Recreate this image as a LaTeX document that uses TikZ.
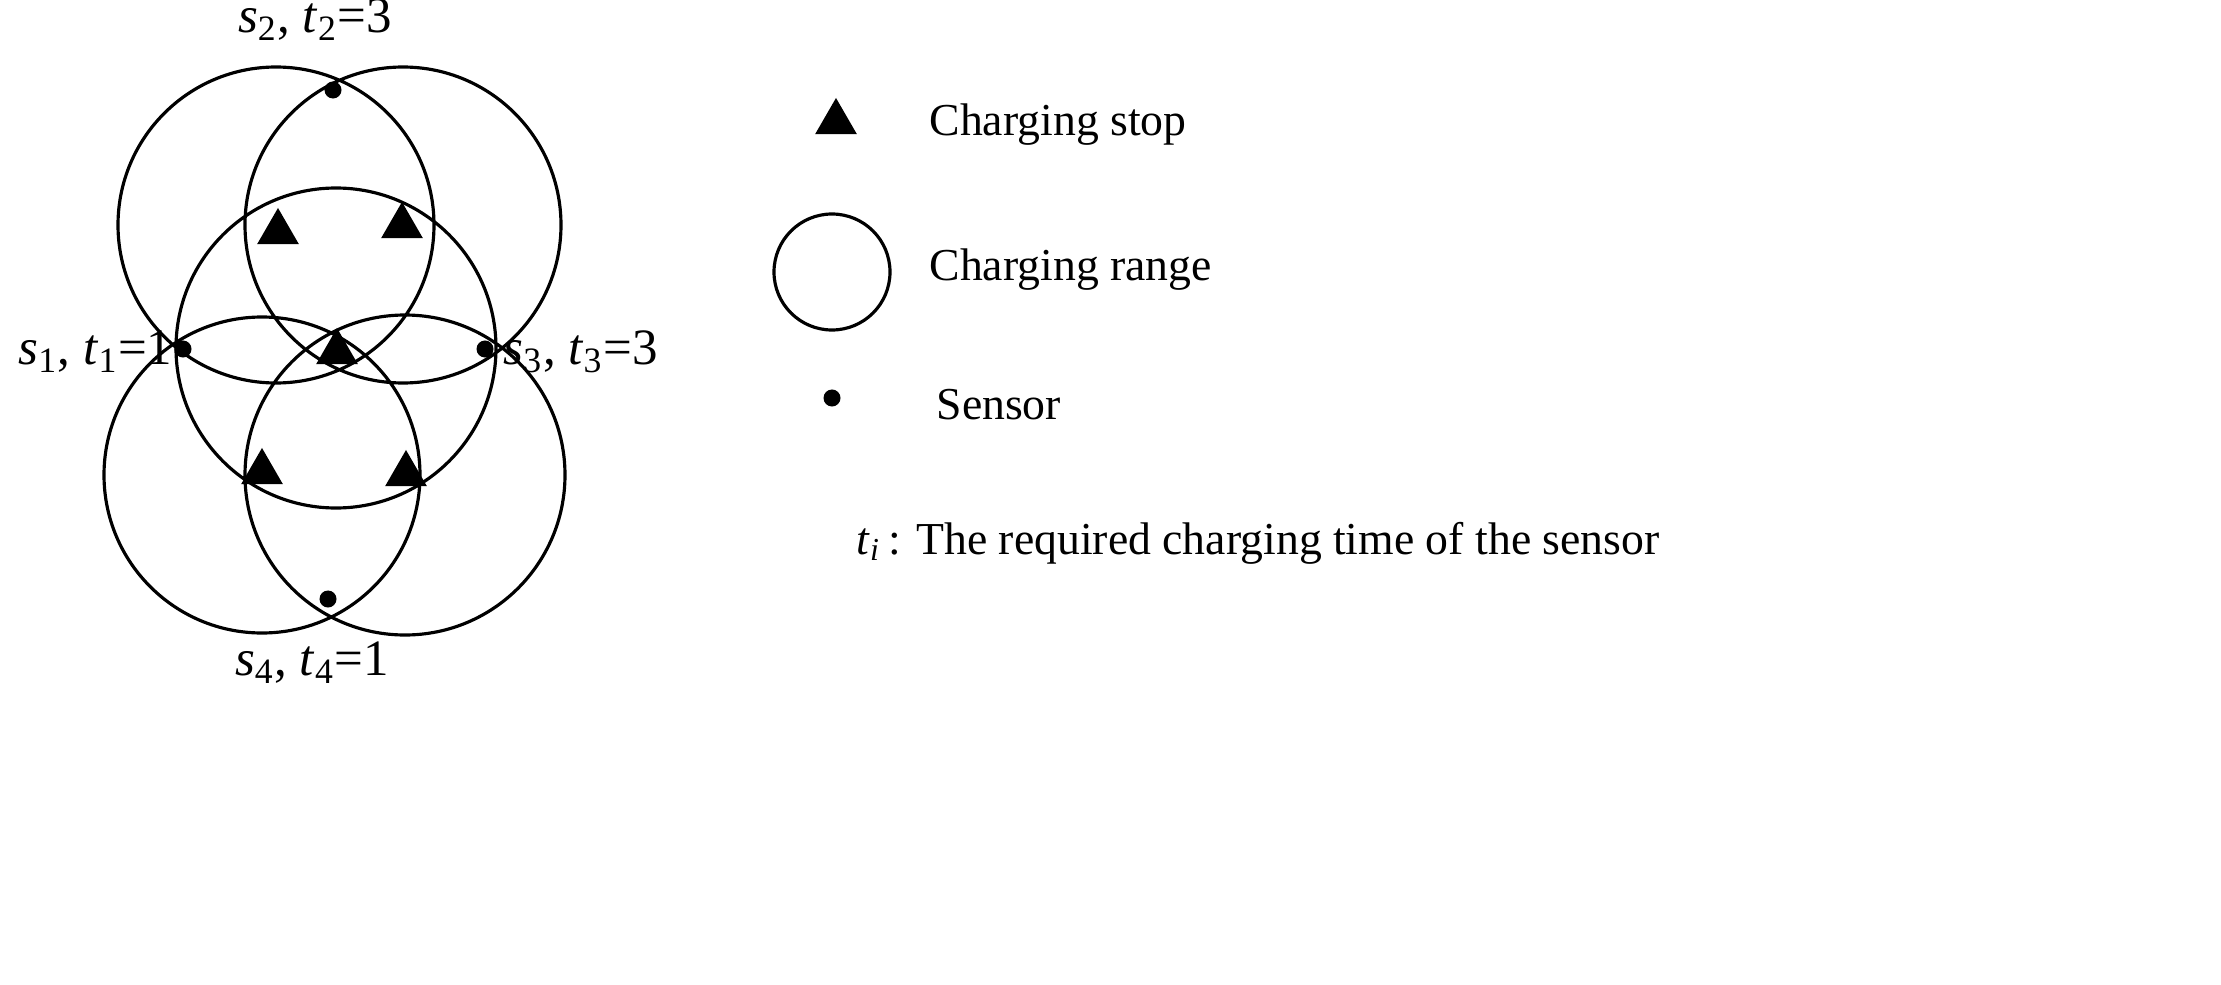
\documentclass[tikz,border=0pt]{standalone}
\usepackage{fontspec}
\setmainfont{Liberation Serif}
\usetikzlibrary{shapes.geometric}
\newcommand{\vsub}[2]{\textit{#1}\textsubscript{#2}}
\begin{document}
\begin{tikzpicture}[x=0.01cm,y=-0.01cm,line width=0.9pt,
  stop/.style={fill=black,isosceles triangle,isosceles triangle apex angle=60,shape border rotate=90,minimum size=0.36cm,inner sep=0pt},
  sensor/.style={fill=black,circle,minimum size=0.17cm,inner sep=0pt},
  lab/.style={font=\fontsize{13}{15}\selectfont,inner sep=0pt},
  slab/.style={font=\fontsize{14.5}{16}\selectfont,inner sep=0pt}]
\useasboundingbox (0,0) rectangle (2221,985);
\draw (276,225) circle (158) (403,225) circle (158) (336,348) circle (160)
      (262,475) circle (158) (405,475) circle (160);
\node[stop] (c1) at (278,232) {};
\node[stop] (c2) at (402,226) {};
\node[stop] (c3) at (337,352) {};
\node[stop] (c4) at (262,472) {};
\node[stop] (c5) at (406,474) {};
\node[sensor] (s2) at (333,90) {};
\node[sensor] (s1) at (183,349) {};
\node[sensor] (s3) at (485,349) {};
\node[sensor] (s4) at (328,599) {};
\node[slab] (l2) at (315,20) {\vsub{s}{2}, \vsub{t}{2}=3};
\node[slab,anchor=east] (l1) at (174,352) {\vsub{s}{1}, \vsub{t}{1}=1};
\node[slab,anchor=west] (l3) at (502,352) {\vsub{s}{3}, \vsub{t}{3}=3};
\node[slab] (l4) at (312,663) {\vsub{s}{4}, \vsub{t}{4}=1};
\node[stop] (ls) at (836,122) {};
\node[lab,anchor=west] (ts) at (928,125) {Charging stop};
\draw (832,272) circle (58);
\node[lab,anchor=west] (tr) at (928,270) {Charging range};
\node[sensor] (ld) at (832,398) {};
\node[lab,anchor=west] (td) at (935,405) {Sensor};
\node[lab,anchor=west] (tt) at (855,543) {\textit{t}\textsubscript{\textit{i}}\,: The required charging time of the sensor};
\end{tikzpicture}
\end{document}
